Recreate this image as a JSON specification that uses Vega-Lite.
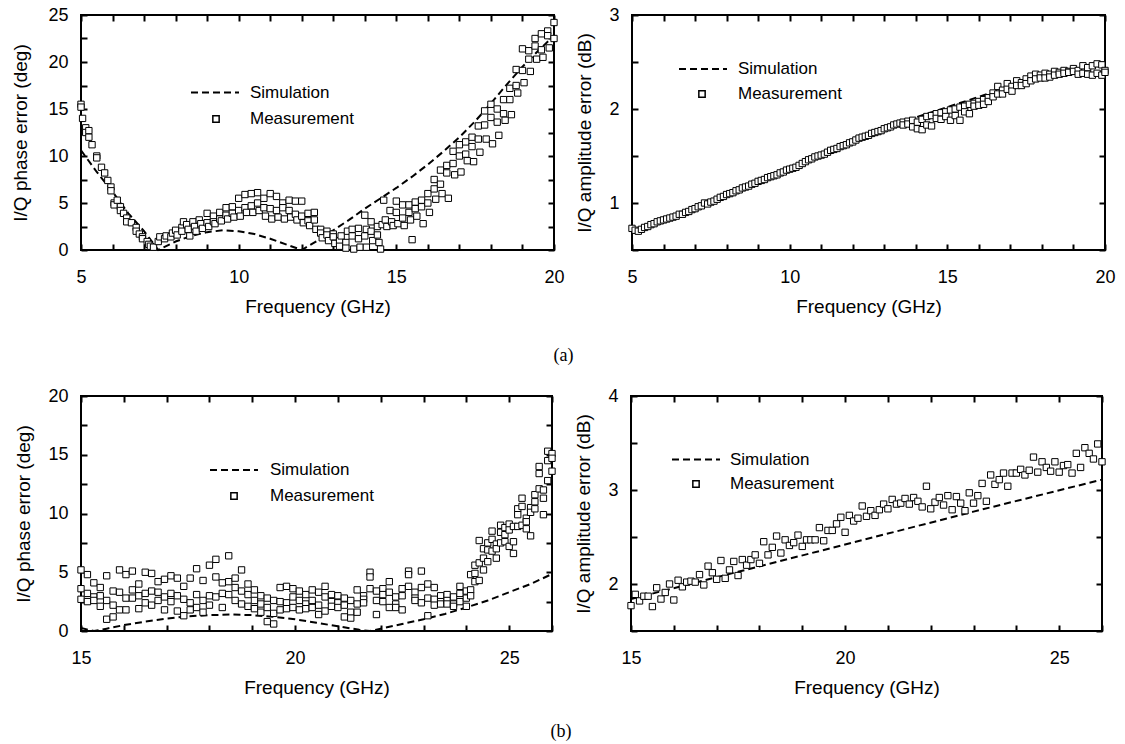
{
  "$schema": "https://vega.github.io/schema/vega-lite/v6.json",
  "background": "white",
  "padding": {"left": 10, "top": 5, "right": 0, "bottom": 0},
  "config": {
    "font": "Liberation Sans",
    "view": {"stroke": "black", "strokeWidth": 2},
    "axis": {
      "domain": false, "zindex": 1,
      "ticks": true, "tickColor": "black", "tickWidth": 2, "tickSize": -6,
      "grid": false,
      "labelFont": "Liberation Sans", "labelFontSize": 18, "labelColor": "black",
      "labelFlush": false, "labelOverlap": false, "labelBound": false,
      "titleFont": "Liberation Sans", "titleFontSize": 19, "titleFontWeight": "normal", "titleColor": "black"
    },
    "axisX": {"labelPadding": 24, "titlePadding": 11},
    "axisY": {"labelPadding": 19, "titlePadding": 14},
    "legend": {"labelFont": "Liberation Sans", "labelFontSize": 17, "labelColor": "black", "padding": 0, "symbolOpacity": 1, "title": null}
  },
  "datasets": {
    "simA1": [{"f":5,"v":10.6},{"f":5.5,"v":8.3},{"f":6,"v":6.2},{"f":6.5,"v":3.9},{"f":7,"v":2.0},{"f":7.45,"v":0},{"f":8,"v":0.9},{"f":8.5,"v":1.5},{"f":9,"v":1.9},{"f":9.5,"v":2.1},{"f":10,"v":2.0},{"f":10.5,"v":1.7},{"f":11,"v":1.2},{"f":11.5,"v":0.6},{"f":12,"v":0},{"f":12.5,"v":1.0},{"f":13,"v":2.1},{"f":13.5,"v":3.2},{"f":14,"v":4.4},{"f":14.5,"v":5.5},{"f":15,"v":6.6},{"f":15.5,"v":7.8},{"f":16,"v":9.1},{"f":16.5,"v":10.5},{"f":17,"v":12.0},{"f":17.5,"v":13.7},{"f":18,"v":15.6},{"f":18.5,"v":17.6},{"f":19,"v":19.5},{"f":19.5,"v":21.2},{"f":20,"v":22.8}],
    "measA1": [{"f":5.0,"v":15.5},{"f":5.0,"v":15.2},{"f":5.05,"v":14.0},{"f":5.15,"v":13.0},{"f":5.15,"v":12.5},{"f":5.25,"v":12.7},{"f":5.25,"v":12.0},{"f":5.35,"v":11.2},{"f":5.5,"v":10.0},{"f":5.5,"v":9.8},{"f":5.65,"v":8.8},{"f":5.75,"v":8.2},{"f":5.85,"v":7.4},{"f":5.95,"v":6.7},{"f":5.95,"v":6.3},{"f":6.05,"v":5.0},{"f":6.05,"v":4.8},{"f":6.15,"v":5.3},{"f":6.25,"v":4.6},{"f":6.25,"v":4.2},{"f":6.35,"v":3.9},{"f":6.45,"v":3.4},{"f":6.45,"v":3.0},{"f":6.6,"v":2.9},{"f":6.75,"v":2.4},{"f":6.75,"v":2.0},{"f":6.85,"v":1.7},{"f":6.95,"v":1.4},{"f":6.95,"v":1.2},{"f":7.1,"v":0.9},{"f":7.15,"v":0.6},{"f":7.2,"v":0.4},{"f":7.3,"v":0.3},{"f":7.45,"v":0.9},{"f":7.5,"v":1.4},{"f":7.65,"v":1.2},{"f":7.7,"v":1.5},{"f":7.85,"v":1.4},{"f":7.9,"v":1.8},{"f":8.0,"v":2.1},{"f":8.05,"v":1.6},{"f":8.2,"v":2.4},{"f":8.2,"v":2.0},{"f":8.25,"v":3.0},{"f":8.35,"v":2.7},{"f":8.4,"v":2.2},{"f":8.45,"v":1.5},{"f":8.55,"v":3.0},{"f":8.6,"v":2.5},{"f":8.65,"v":2.0},{"f":8.75,"v":3.2},{"f":8.8,"v":2.8},{"f":8.85,"v":2.3},{"f":9.0,"v":3.9},{"f":9.0,"v":2.9},{"f":9.05,"v":2.5},{"f":9.2,"v":3.6},{"f":9.2,"v":3.0},{"f":9.25,"v":2.8},{"f":9.4,"v":4.0},{"f":9.4,"v":3.3},{"f":9.45,"v":3.1},{"f":9.6,"v":4.5},{"f":9.6,"v":3.7},{"f":9.65,"v":3.3},{"f":9.8,"v":4.6},{"f":9.8,"v":3.9},{"f":9.85,"v":3.5},{"f":10.0,"v":5.5},{"f":10.0,"v":4.2},{"f":10.05,"v":3.6},{"f":10.2,"v":5.9},{"f":10.2,"v":4.5},{"f":10.25,"v":4.0},{"f":10.4,"v":6.0},{"f":10.4,"v":4.7},{"f":10.45,"v":4.0},{"f":10.6,"v":6.1},{"f":10.6,"v":5.0},{"f":10.65,"v":4.2},{"f":10.8,"v":5.5},{"f":10.8,"v":4.5},{"f":10.85,"v":3.6},{"f":11.0,"v":6.0},{"f":11.0,"v":4.4},{"f":11.05,"v":3.3},{"f":11.2,"v":5.7},{"f":11.2,"v":4.2},{"f":11.25,"v":3.5},{"f":11.4,"v":5.0},{"f":11.4,"v":4.5},{"f":11.45,"v":3.3},{"f":11.6,"v":5.3},{"f":11.6,"v":4.2},{"f":11.65,"v":3.5},{"f":11.8,"v":5.2},{"f":11.8,"v":3.8},{"f":11.85,"v":3.2},{"f":12.0,"v":5.2},{"f":12.0,"v":3.6},{"f":12.05,"v":2.9},{"f":12.2,"v":3.9},{"f":12.2,"v":3.1},{"f":12.25,"v":2.6},{"f":12.4,"v":4.0},{"f":12.4,"v":3.2},{"f":12.45,"v":2.2},{"f":12.6,"v":2.2},{"f":12.6,"v":1.8},{"f":12.65,"v":1.3},{"f":12.8,"v":2.0},{"f":12.8,"v":1.6},{"f":12.85,"v":1.0},{"f":13.0,"v":1.7},{"f":13.0,"v":1.4},{"f":13.05,"v":0.7},{"f":13.2,"v":1.0},{"f":13.2,"v":0.4},{"f":13.25,"v":1.5},{"f":13.4,"v":0.8},{"f":13.4,"v":0.2},{"f":13.45,"v":2.0},{"f":13.6,"v":2.2},{"f":13.6,"v":1.5},{"f":13.65,"v":0.1},{"f":13.8,"v":2.3},{"f":13.8,"v":1.2},{"f":13.85,"v":0.3},{"f":14.0,"v":3.7},{"f":14.0,"v":1.5},{"f":14.05,"v":0.3},{"f":14.05,"v":2.2},{"f":14.2,"v":3.0},{"f":14.2,"v":2.0},{"f":14.25,"v":1.0},{"f":14.4,"v":2.5},{"f":14.4,"v":1.6},{"f":14.45,"v":0.8},{"f":14.5,"v":0.1},{"f":14.55,"v":2.7},{"f":14.6,"v":5.3},{"f":14.65,"v":3.2},{"f":14.7,"v":2.5},{"f":14.8,"v":4.2},{"f":14.85,"v":3.0},{"f":14.9,"v":2.6},{"f":15.0,"v":5.2},{"f":15.0,"v":4.0},{"f":15.05,"v":2.8},{"f":15.2,"v":4.8},{"f":15.2,"v":3.4},{"f":15.25,"v":2.6},{"f":15.4,"v":4.8},{"f":15.4,"v":4.0},{"f":15.45,"v":3.2},{"f":15.5,"v":1.1},{"f":15.6,"v":5.1},{"f":15.6,"v":4.4},{"f":15.65,"v":3.6},{"f":15.8,"v":5.3},{"f":15.8,"v":4.6},{"f":15.85,"v":2.8},{"f":16.0,"v":6.0},{"f":16.0,"v":5.0},{"f":16.05,"v":4.0},{"f":16.2,"v":7.5},{"f":16.2,"v":6.5},{"f":16.25,"v":5.4},{"f":16.4,"v":8.5},{"f":16.4,"v":7.0},{"f":16.45,"v":6.0},{"f":16.6,"v":9.0},{"f":16.6,"v":8.2},{"f":16.65,"v":5.5},{"f":16.8,"v":10.5},{"f":16.8,"v":9.2},{"f":16.85,"v":8.0},{"f":17.0,"v":11.2},{"f":17.0,"v":10.0},{"f":17.05,"v":8.3},{"f":17.2,"v":11.5},{"f":17.2,"v":10.2},{"f":17.25,"v":9.5},{"f":17.4,"v":12.0},{"f":17.4,"v":11.0},{"f":17.45,"v":9.4},{"f":17.6,"v":13.2},{"f":17.6,"v":11.8},{"f":17.65,"v":10.4},{"f":17.8,"v":14.8},{"f":17.8,"v":13.3},{"f":17.85,"v":11.8},{"f":18.0,"v":15.5},{"f":18.0,"v":14.1},{"f":18.05,"v":11.3},{"f":18.2,"v":15.0},{"f":18.2,"v":13.6},{"f":18.25,"v":12.2},{"f":18.4,"v":16.0},{"f":18.4,"v":14.5},{"f":18.45,"v":13.8},{"f":18.6,"v":17.2},{"f":18.6,"v":16.0},{"f":18.65,"v":14.4},{"f":18.8,"v":19.2},{"f":18.8,"v":17.5},{"f":18.85,"v":16.7},{"f":19.0,"v":21.4},{"f":19.0,"v":19.1},{"f":19.05,"v":17.8},{"f":19.2,"v":21.2},{"f":19.2,"v":20.3},{"f":19.25,"v":19.0},{"f":19.4,"v":22.5},{"f":19.4,"v":21.7},{"f":19.45,"v":20.3},{"f":19.6,"v":23.0},{"f":19.6,"v":21.3},{"f":19.65,"v":20.5},{"f":19.8,"v":23.3},{"f":19.8,"v":22.8},{"f":19.85,"v":21.5},{"f":20.0,"v":24.2},{"f":20.0,"v":22.5}],
    "simA2": [{"f":5,"v":0.68},{"f":6,"v":0.81},{"f":7,"v":0.94},{"f":8,"v":1.08},{"f":9,"v":1.22},{"f":10,"v":1.36},{"f":11,"v":1.5},{"f":12,"v":1.64},{"f":13,"v":1.78},{"f":14,"v":1.91},{"f":15,"v":2.02},{"f":16,"v":2.13},{"f":17,"v":2.24},{"f":18,"v":2.33},{"f":19,"v":2.41},{"f":20,"v":2.47}],
    "measA2": [{"f":5.0,"v":0.73},{"f":5.1,"v":0.71},{"f":5.2,"v":0.7},{"f":5.3,"v":0.72},{"f":5.4,"v":0.74},{"f":5.5,"v":0.75},{"f":5.6,"v":0.77},{"f":5.7,"v":0.78},{"f":5.8,"v":0.8},{"f":5.9,"v":0.81},{"f":6.0,"v":0.82},{"f":6.1,"v":0.83},{"f":6.2,"v":0.84},{"f":6.3,"v":0.85},{"f":6.4,"v":0.86},{"f":6.5,"v":0.88},{"f":6.6,"v":0.88},{"f":6.7,"v":0.9},{"f":6.8,"v":0.91},{"f":6.9,"v":0.93},{"f":7.0,"v":0.94},{"f":7.1,"v":0.96},{"f":7.2,"v":0.97},{"f":7.3,"v":1.0},{"f":7.4,"v":0.99},{"f":7.5,"v":1.01},{"f":7.6,"v":1.02},{"f":7.7,"v":1.04},{"f":7.8,"v":1.06},{"f":7.9,"v":1.07},{"f":8.0,"v":1.09},{"f":8.1,"v":1.1},{"f":8.2,"v":1.11},{"f":8.3,"v":1.13},{"f":8.4,"v":1.14},{"f":8.5,"v":1.16},{"f":8.6,"v":1.17},{"f":8.7,"v":1.18},{"f":8.8,"v":1.2},{"f":8.9,"v":1.21},{"f":9.0,"v":1.23},{"f":9.1,"v":1.24},{"f":9.2,"v":1.25},{"f":9.3,"v":1.27},{"f":9.4,"v":1.28},{"f":9.5,"v":1.29},{"f":9.6,"v":1.3},{"f":9.7,"v":1.32},{"f":9.8,"v":1.33},{"f":9.9,"v":1.35},{"f":10.0,"v":1.36},{"f":10.1,"v":1.37},{"f":10.2,"v":1.38},{"f":10.3,"v":1.4},{"f":10.4,"v":1.42},{"f":10.5,"v":1.44},{"f":10.6,"v":1.46},{"f":10.7,"v":1.47},{"f":10.8,"v":1.49},{"f":10.9,"v":1.5},{"f":11.0,"v":1.51},{"f":11.1,"v":1.52},{"f":11.2,"v":1.54},{"f":11.3,"v":1.56},{"f":11.4,"v":1.57},{"f":11.5,"v":1.58},{"f":11.6,"v":1.6},{"f":11.7,"v":1.61},{"f":11.8,"v":1.62},{"f":11.9,"v":1.64},{"f":12.0,"v":1.65},{"f":12.1,"v":1.67},{"f":12.2,"v":1.69},{"f":12.3,"v":1.7},{"f":12.4,"v":1.71},{"f":12.5,"v":1.72},{"f":12.6,"v":1.74},{"f":12.7,"v":1.75},{"f":12.8,"v":1.76},{"f":12.9,"v":1.77},{"f":13.0,"v":1.79},{"f":13.1,"v":1.8},{"f":13.2,"v":1.81},{"f":13.3,"v":1.83},{"f":13.4,"v":1.84},{"f":13.5,"v":1.85},{"f":13.6,"v":1.86},{"f":13.6,"v":1.83},{"f":13.75,"v":1.87},{"f":13.75,"v":1.84},{"f":13.9,"v":1.88},{"f":13.9,"v":1.81},{"f":14.05,"v":1.86},{"f":14.05,"v":1.79},{"f":14.2,"v":1.89},{"f":14.2,"v":1.78},{"f":14.35,"v":1.92},{"f":14.35,"v":1.83},{"f":14.5,"v":1.93},{"f":14.5,"v":1.82},{"f":14.65,"v":1.95},{"f":14.65,"v":1.9},{"f":14.8,"v":1.96},{"f":14.8,"v":1.89},{"f":14.95,"v":1.97},{"f":14.95,"v":1.92},{"f":15.1,"v":1.99},{"f":15.1,"v":1.88},{"f":15.25,"v":2.0},{"f":15.25,"v":1.93},{"f":15.4,"v":2.02},{"f":15.4,"v":1.88},{"f":15.55,"v":2.03},{"f":15.55,"v":1.97},{"f":15.7,"v":2.05},{"f":15.7,"v":1.95},{"f":15.85,"v":2.06},{"f":15.85,"v":2.03},{"f":16.0,"v":2.08},{"f":16.0,"v":2.04},{"f":16.15,"v":2.1},{"f":16.15,"v":2.05},{"f":16.3,"v":2.12},{"f":16.3,"v":2.08},{"f":16.45,"v":2.17},{"f":16.45,"v":2.13},{"f":16.6,"v":2.24},{"f":16.6,"v":2.16},{"f":16.75,"v":2.2},{"f":16.75,"v":2.16},{"f":16.9,"v":2.27},{"f":16.9,"v":2.21},{"f":17.05,"v":2.24},{"f":17.05,"v":2.19},{"f":17.2,"v":2.3},{"f":17.2,"v":2.25},{"f":17.35,"v":2.28},{"f":17.35,"v":2.25},{"f":17.5,"v":2.32},{"f":17.5,"v":2.27},{"f":17.65,"v":2.35},{"f":17.65,"v":2.3},{"f":17.8,"v":2.37},{"f":17.8,"v":2.32},{"f":17.95,"v":2.36},{"f":17.95,"v":2.33},{"f":18.1,"v":2.38},{"f":18.1,"v":2.33},{"f":18.25,"v":2.37},{"f":18.25,"v":2.34},{"f":18.4,"v":2.4},{"f":18.4,"v":2.36},{"f":18.55,"v":2.39},{"f":18.55,"v":2.37},{"f":18.7,"v":2.41},{"f":18.7,"v":2.38},{"f":18.85,"v":2.4},{"f":18.85,"v":2.39},{"f":19.0,"v":2.43},{"f":19.0,"v":2.4},{"f":19.15,"v":2.41},{"f":19.15,"v":2.37},{"f":19.3,"v":2.46},{"f":19.3,"v":2.38},{"f":19.45,"v":2.44},{"f":19.45,"v":2.37},{"f":19.6,"v":2.46},{"f":19.6,"v":2.36},{"f":19.75,"v":2.48},{"f":19.75,"v":2.38},{"f":19.9,"v":2.47},{"f":19.9,"v":2.36},{"f":20.0,"v":2.41},{"f":20.0,"v":2.39}],
    "simB1": [{"f":15,"v":0.25},{"f":15.3,"v":0},{"f":15.6,"v":0.2},{"f":16,"v":0.5},{"f":16.5,"v":0.8},{"f":17,"v":1.05},{"f":17.5,"v":1.25},{"f":18,"v":1.35},{"f":18.5,"v":1.4},{"f":19,"v":1.35},{"f":19.5,"v":1.2},{"f":20,"v":1.0},{"f":20.5,"v":0.7},{"f":21,"v":0.4},{"f":21.5,"v":0.1},{"f":21.75,"v":0},{"f":22,"v":0.2},{"f":22.5,"v":0.6},{"f":23,"v":1.0},{"f":23.5,"v":1.45},{"f":24,"v":2.0},{"f":24.5,"v":2.6},{"f":25,"v":3.3},{"f":25.5,"v":4.0},{"f":26,"v":4.85}],
    "measB1": [{"f":15.0,"v":5.2},{"f":15.0,"v":3.6},{"f":15.0,"v":2.7},{"f":15.15,"v":4.8},{"f":15.15,"v":3.2},{"f":15.15,"v":2.5},{"f":15.3,"v":4.1},{"f":15.3,"v":2.9},{"f":15.3,"v":2.6},{"f":15.45,"v":3.7},{"f":15.45,"v":3.0},{"f":15.45,"v":2.1},{"f":15.6,"v":4.7},{"f":15.6,"v":2.6},{"f":15.6,"v":1.0},{"f":15.75,"v":3.4},{"f":15.75,"v":2.2},{"f":15.75,"v":1.2},{"f":15.9,"v":5.2},{"f":15.9,"v":3.3},{"f":15.9,"v":1.8},{"f":16.05,"v":4.8},{"f":16.05,"v":2.8},{"f":16.05,"v":1.8},{"f":16.2,"v":5.1},{"f":16.2,"v":3.5},{"f":16.2,"v":2.8},{"f":16.35,"v":4.0},{"f":16.35,"v":3.0},{"f":16.35,"v":1.9},{"f":16.5,"v":5.0},{"f":16.5,"v":3.2},{"f":16.5,"v":2.4},{"f":16.65,"v":4.9},{"f":16.65,"v":3.4},{"f":16.65,"v":2.2},{"f":16.8,"v":4.2},{"f":16.8,"v":3.3},{"f":16.8,"v":2.6},{"f":16.95,"v":4.4},{"f":16.95,"v":2.9},{"f":16.95,"v":1.8},{"f":17.1,"v":4.7},{"f":17.1,"v":3.2},{"f":17.1,"v":2.5},{"f":17.25,"v":4.5},{"f":17.25,"v":3.0},{"f":17.25,"v":1.7},{"f":17.4,"v":3.8},{"f":17.4,"v":2.7},{"f":17.4,"v":1.3},{"f":17.55,"v":4.5},{"f":17.55,"v":2.4},{"f":17.55,"v":1.8},{"f":17.7,"v":5.3},{"f":17.7,"v":3.1},{"f":17.7,"v":2.0},{"f":17.85,"v":4.3},{"f":17.85,"v":2.6},{"f":17.85,"v":1.6},{"f":18.0,"v":5.6},{"f":18.0,"v":3.0},{"f":18.0,"v":2.2},{"f":18.15,"v":6.1},{"f":18.15,"v":4.6},{"f":18.15,"v":2.9},{"f":18.3,"v":4.1},{"f":18.3,"v":3.2},{"f":18.3,"v":2.0},{"f":18.45,"v":6.4},{"f":18.45,"v":4.2},{"f":18.45,"v":3.1},{"f":18.6,"v":4.5},{"f":18.6,"v":3.7},{"f":18.6,"v":2.6},{"f":18.75,"v":5.2},{"f":18.75,"v":3.4},{"f":18.75,"v":2.3},{"f":18.9,"v":4.0},{"f":18.9,"v":3.1},{"f":18.9,"v":2.1},{"f":19.05,"v":3.5},{"f":19.05,"v":2.6},{"f":19.05,"v":1.9},{"f":19.2,"v":3.0},{"f":19.2,"v":2.3},{"f":19.2,"v":1.6},{"f":19.35,"v":2.8},{"f":19.35,"v":2.0},{"f":19.35,"v":0.8},{"f":19.5,"v":2.6},{"f":19.5,"v":1.5},{"f":19.5,"v":0.6},{"f":19.65,"v":3.7},{"f":19.65,"v":2.5},{"f":19.65,"v":1.8},{"f":19.8,"v":3.8},{"f":19.8,"v":2.4},{"f":19.8,"v":1.9},{"f":19.95,"v":3.6},{"f":19.95,"v":2.9},{"f":19.95,"v":2.0},{"f":20.1,"v":3.4},{"f":20.1,"v":2.6},{"f":20.1,"v":1.8},{"f":20.25,"v":3.1},{"f":20.25,"v":2.3},{"f":20.25,"v":1.9},{"f":20.4,"v":3.5},{"f":20.4,"v":2.6},{"f":20.4,"v":2.0},{"f":20.55,"v":3.3},{"f":20.55,"v":2.2},{"f":20.55,"v":1.4},{"f":20.7,"v":3.8},{"f":20.7,"v":2.9},{"f":20.7,"v":1.7},{"f":20.85,"v":3.1},{"f":20.85,"v":2.5},{"f":20.85,"v":2.1},{"f":21.0,"v":3.0},{"f":21.0,"v":2.4},{"f":21.0,"v":2.0},{"f":21.15,"v":2.8},{"f":21.15,"v":2.2},{"f":21.15,"v":1.2},{"f":21.3,"v":2.6},{"f":21.3,"v":1.6},{"f":21.3,"v":1.1},{"f":21.45,"v":3.5},{"f":21.45,"v":2.3},{"f":21.45,"v":1.6},{"f":21.6,"v":3.0},{"f":21.6,"v":2.7},{"f":21.6,"v":2.4},{"f":21.75,"v":5.0},{"f":21.75,"v":4.6},{"f":21.75,"v":3.6},{"f":21.9,"v":3.4},{"f":21.9,"v":2.6},{"f":21.9,"v":1.4},{"f":22.05,"v":3.6},{"f":22.05,"v":3.1},{"f":22.05,"v":2.5},{"f":22.2,"v":4.2},{"f":22.2,"v":3.3},{"f":22.2,"v":2.0},{"f":22.35,"v":2.9},{"f":22.35,"v":2.3},{"f":22.35,"v":2.0},{"f":22.5,"v":3.6},{"f":22.5,"v":3.0},{"f":22.5,"v":1.8},{"f":22.65,"v":5.1},{"f":22.65,"v":4.8},{"f":22.65,"v":3.8},{"f":22.8,"v":3.3},{"f":22.8,"v":2.8},{"f":22.8,"v":2.6},{"f":22.95,"v":5.1},{"f":22.95,"v":3.7},{"f":22.95,"v":2.4},{"f":23.1,"v":4.0},{"f":23.1,"v":2.8},{"f":23.1,"v":1.3},{"f":23.25,"v":3.7},{"f":23.25,"v":2.7},{"f":23.25,"v":2.2},{"f":23.4,"v":3.0},{"f":23.4,"v":2.5},{"f":23.4,"v":2.3},{"f":23.55,"v":3.1},{"f":23.55,"v":2.6},{"f":23.55,"v":2.3},{"f":23.7,"v":2.9},{"f":23.7,"v":2.3},{"f":23.7,"v":2.1},{"f":23.85,"v":3.8},{"f":23.85,"v":3.2},{"f":23.85,"v":2.5},{"f":24.0,"v":3.4},{"f":24.0,"v":2.8},{"f":24.0,"v":2.1},{"f":24.1,"v":4.8},{"f":24.1,"v":3.5},{"f":24.1,"v":3.0},{"f":24.2,"v":5.6},{"f":24.2,"v":4.9},{"f":24.2,"v":4.2},{"f":24.3,"v":7.7},{"f":24.3,"v":5.8},{"f":24.3,"v":4.3},{"f":24.4,"v":7.0},{"f":24.4,"v":6.2},{"f":24.4,"v":5.2},{"f":24.5,"v":7.5},{"f":24.5,"v":6.9},{"f":24.5,"v":5.9},{"f":24.6,"v":8.5},{"f":24.6,"v":7.8},{"f":24.6,"v":6.8},{"f":24.7,"v":7.4},{"f":24.7,"v":7.0},{"f":24.7,"v":6.2},{"f":24.8,"v":9.0},{"f":24.8,"v":8.4},{"f":24.8,"v":7.5},{"f":24.9,"v":8.8},{"f":24.9,"v":8.2},{"f":24.9,"v":7.6},{"f":25.0,"v":9.1},{"f":25.0,"v":8.6},{"f":25.0,"v":7.2},{"f":25.1,"v":8.9},{"f":25.1,"v":7.6},{"f":25.1,"v":6.6},{"f":25.2,"v":10.4},{"f":25.2,"v":9.9},{"f":25.2,"v":8.9},{"f":25.3,"v":11.3},{"f":25.3,"v":10.6},{"f":25.3,"v":9.0},{"f":25.4,"v":9.6},{"f":25.4,"v":9.3},{"f":25.4,"v":8.7},{"f":25.5,"v":10.5},{"f":25.5,"v":10.1},{"f":25.5,"v":8.1},{"f":25.6,"v":11.6},{"f":25.6,"v":11.0},{"f":25.6,"v":10.4},{"f":25.7,"v":14.0},{"f":25.7,"v":13.4},{"f":25.7,"v":12.1},{"f":25.8,"v":12.0},{"f":25.8,"v":11.3},{"f":25.8,"v":9.9},{"f":25.9,"v":15.3},{"f":25.9,"v":14.5},{"f":25.9,"v":12.8},{"f":26.0,"v":15.1},{"f":26.0,"v":14.7},{"f":26.0,"v":13.6}],
    "simB2": [{"f":15,"v":1.84},{"f":17.5,"v":2.13},{"f":20,"v":2.42},{"f":23,"v":2.77},{"f":26,"v":3.11}],
    "measB2": [{"f":15.0,"v":1.77},{"f":15.1,"v":1.89},{"f":15.2,"v":1.82},{"f":15.3,"v":1.87},{"f":15.4,"v":1.87},{"f":15.5,"v":1.76},{"f":15.6,"v":1.96},{"f":15.7,"v":1.84},{"f":15.8,"v":1.91},{"f":15.9,"v":2.0},{"f":16.0,"v":1.83},{"f":16.1,"v":2.04},{"f":16.2,"v":1.97},{"f":16.3,"v":2.02},{"f":16.4,"v":2.03},{"f":16.5,"v":2.02},{"f":16.6,"v":2.1},{"f":16.7,"v":1.99},{"f":16.8,"v":2.19},{"f":16.9,"v":2.12},{"f":17.0,"v":2.05},{"f":17.1,"v":2.25},{"f":17.2,"v":2.06},{"f":17.3,"v":2.15},{"f":17.4,"v":2.24},{"f":17.5,"v":2.09},{"f":17.6,"v":2.26},{"f":17.7,"v":2.2},{"f":17.8,"v":2.26},{"f":17.9,"v":2.31},{"f":18.0,"v":2.22},{"f":18.1,"v":2.45},{"f":18.2,"v":2.31},{"f":18.3,"v":2.39},{"f":18.4,"v":2.51},{"f":18.5,"v":2.33},{"f":18.6,"v":2.47},{"f":18.7,"v":2.41},{"f":18.8,"v":2.44},{"f":18.9,"v":2.52},{"f":19.0,"v":2.4},{"f":19.1,"v":2.47},{"f":19.2,"v":2.47},{"f":19.3,"v":2.47},{"f":19.4,"v":2.6},{"f":19.5,"v":2.46},{"f":19.6,"v":2.57},{"f":19.7,"v":2.57},{"f":19.8,"v":2.64},{"f":19.9,"v":2.71},{"f":20.0,"v":2.55},{"f":20.1,"v":2.73},{"f":20.2,"v":2.67},{"f":20.3,"v":2.7},{"f":20.4,"v":2.83},{"f":20.5,"v":2.72},{"f":20.6,"v":2.78},{"f":20.7,"v":2.73},{"f":20.8,"v":2.79},{"f":20.9,"v":2.85},{"f":21.0,"v":2.8},{"f":21.1,"v":2.9},{"f":21.2,"v":2.85},{"f":21.3,"v":2.86},{"f":21.4,"v":2.91},{"f":21.5,"v":2.85},{"f":21.6,"v":2.92},{"f":21.7,"v":2.88},{"f":21.8,"v":2.82},{"f":21.9,"v":3.04},{"f":22.0,"v":2.8},{"f":22.1,"v":2.87},{"f":22.2,"v":2.92},{"f":22.3,"v":2.84},{"f":22.4,"v":2.94},{"f":22.5,"v":2.79},{"f":22.6,"v":2.93},{"f":22.7,"v":2.86},{"f":22.8,"v":2.78},{"f":22.9,"v":2.97},{"f":23.0,"v":2.86},{"f":23.1,"v":2.94},{"f":23.2,"v":3.07},{"f":23.3,"v":2.88},{"f":23.4,"v":3.16},{"f":23.5,"v":3.06},{"f":23.6,"v":3.11},{"f":23.7,"v":3.18},{"f":23.8,"v":3.04},{"f":23.9,"v":3.18},{"f":24.0,"v":3.18},{"f":24.1,"v":3.22},{"f":24.2,"v":3.16},{"f":24.3,"v":3.21},{"f":24.4,"v":3.35},{"f":24.5,"v":3.19},{"f":24.6,"v":3.3},{"f":24.7,"v":3.24},{"f":24.8,"v":3.2},{"f":24.9,"v":3.3},{"f":25.0,"v":3.19},{"f":25.1,"v":3.26},{"f":25.2,"v":3.27},{"f":25.3,"v":3.18},{"f":25.4,"v":3.39},{"f":25.5,"v":3.24},{"f":25.6,"v":3.45},{"f":25.7,"v":3.39},{"f":25.8,"v":3.33},{"f":25.9,"v":3.49},{"f":26.0,"v":3.3}]
  },
  "vconcat": [
    {
      "hconcat": [
        {
          "width": 473, "height": 235,
          "layer": [
            {
              "data": {"name": "simA1"},
              "mark": {"type": "line", "color": "black", "strokeWidth": 2},
              "encoding": {
                "x": {"field": "f", "type": "quantitative", "scale": {"domain": [5, 20], "nice": false, "zero": false},
                      "axis": {"values": [5,6,7,8,9,10,11,12,13,14,15,16,17,18,19,20], "labelExpr": "datum.value % 5 === 0 ? datum.label : ''", "title": "Frequency (GHz)"}},
                "y": {"field": "v", "type": "quantitative", "scale": {"domain": [0, 25], "nice": false},
                      "axis": {"values": [0,2.5,5,7.5,10,12.5,15,17.5,20,22.5,25], "labelExpr": "datum.value % 5 === 0 ? datum.label : ''", "title": "I/Q phase error (deg)", "titlePadding": 17}},
                "strokeDash": {"datum": "Simulation", "scale": {"range": [[7, 4]]},
                               "legend": {"orient": "none", "legendX": 109, "legendY": 52.5, "symbolType": "stroke", "symbolSize": 2304, "symbolStrokeColor": "black", "symbolStrokeWidth": 2, "symbolDash": [7, 4], "labelOffset": 10}}
              }
            },
            {
              "data": {"name": "measA1"},
              "mark": {"type": "point", "filled": true, "fill": "white", "stroke": "black", "strokeWidth": 1, "size": 40, "opacity": 1},
              "encoding": {
                "x": {"field": "f", "type": "quantitative", "scale": {"domain": [5, 20], "nice": false, "zero": false},
                      "axis": {"orient": "top", "values": [5,6,7,8,9,10,11,12,13,14,15,16,17,18,19,20], "labels": false, "title": null}},
                "y": {"field": "v", "type": "quantitative", "scale": {"domain": [0, 25], "nice": false},
                      "axis": {"orient": "right", "values": [0,2.5,5,7.5,10,12.5,15,17.5,20,22.5,25], "labels": false, "title": null}},
                "shape": {"datum": "Measurement", "scale": {"range": ["square"]},
                          "legend": {"orient": "none", "legendX": 126.5, "legendY": 95.5, "symbolSize": 40, "labelOffset": 25.5,
                                     "encode": {"symbols": {"update": {"fill": {"value": "white"}, "stroke": {"value": "black"}, "strokeWidth": {"value": 1}, "opacity": {"value": 1}}}}}}
              }
            }
          ],
          "resolve": {"scale": {"x": "independent", "y": "independent"}}
        },
        {
          "width": 473, "height": 235,
          "layer": [
            {
              "data": {"name": "simA2"},
              "mark": {"type": "line", "color": "black", "strokeWidth": 2},
              "encoding": {
                "x": {"field": "f", "type": "quantitative", "scale": {"domain": [5, 20], "nice": false, "zero": false},
                      "axis": {"values": [5,6,7,8,9,10,11,12,13,14,15,16,17,18,19,20], "labelExpr": "datum.value % 5 === 0 ? datum.label : ''", "title": "Frequency (GHz)"}},
                "y": {"field": "v", "type": "quantitative", "scale": {"domain": [0.5, 3], "nice": false, "zero": false},
                      "axis": {"values": [0.5,1,1.5,2,2.5,3], "format": "~g", "labelExpr": "datum.value % 1 === 0 ? datum.label : ''", "title": "I/Q amplitude error (dB)"}},
                "strokeDash": {"datum": "Simulation", "scale": {"range": [[7, 4]]},
                               "legend": {"orient": "none", "legendX": 46, "legendY": 29, "symbolType": "stroke", "symbolSize": 2304, "symbolStrokeColor": "black", "symbolStrokeWidth": 2, "symbolDash": [7, 4], "labelOffset": 10}}
              }
            },
            {
              "data": {"name": "measA2"},
              "mark": {"type": "point", "filled": true, "fill": "white", "stroke": "black", "strokeWidth": 1, "size": 40, "opacity": 1},
              "encoding": {
                "x": {"field": "f", "type": "quantitative", "scale": {"domain": [5, 20], "nice": false, "zero": false},
                      "axis": {"orient": "top", "values": [5,6,7,8,9,10,11,12,13,14,15,16,17,18,19,20], "labels": false, "title": null}},
                "y": {"field": "v", "type": "quantitative", "scale": {"domain": [0.5, 3], "nice": false, "zero": false},
                      "axis": {"orient": "right", "values": [0.5,1,1.5,2,2.5,3], "labels": false, "title": null}},
                "shape": {"datum": "Measurement", "scale": {"range": ["square"]},
                          "legend": {"orient": "none", "legendX": 61.5, "legendY": 70.5, "symbolSize": 40, "labelOffset": 27.5,
                                     "encode": {"symbols": {"update": {"fill": {"value": "white"}, "stroke": {"value": "black"}, "strokeWidth": {"value": 1}, "opacity": {"value": 1}}}}}}
              }
            }
          ],
          "resolve": {"scale": {"x": "independent", "y": "independent"}}
        }
      ],
      "spacing": 78,
      "bounds": "flush",
      "title": {"text": "(a)", "orient": "bottom", "anchor": "middle", "font": "Liberation Serif", "fontSize": 18, "fontWeight": "normal", "color": "black", "offset": 30},
      "resolve": {"scale": {"strokeDash": "independent", "shape": "independent"}, "legend": {"strokeDash": "independent", "shape": "independent"}}
    },
    {
      "hconcat": [
        {
          "width": 471, "height": 235,
          "layer": [
            {
              "data": {"name": "simB1"},
              "mark": {"type": "line", "color": "black", "strokeWidth": 2},
              "encoding": {
                "x": {"field": "f", "type": "quantitative", "scale": {"domain": [15, 26], "nice": false, "zero": false},
                      "axis": {"values": [15,16,17,18,19,20,21,22,23,24,25,26], "labelExpr": "datum.value % 5 === 0 ? datum.label : ''", "title": "Frequency (GHz)"}},
                "y": {"field": "v", "type": "quantitative", "scale": {"domain": [0, 20], "nice": false},
                      "axis": {"values": [0,2.5,5,7.5,10,12.5,15,17.5,20], "labelExpr": "datum.value % 5 === 0 ? datum.label : ''", "title": "I/Q phase error (deg)"}},
                "strokeDash": {"datum": "Simulation", "scale": {"range": [[7, 4]]},
                               "legend": {"orient": "none", "legendX": 128, "legendY": 49, "symbolType": "stroke", "symbolSize": 2304, "symbolStrokeColor": "black", "symbolStrokeWidth": 2, "symbolDash": [7, 4], "labelOffset": 11}}
              }
            },
            {
              "data": {"name": "measB1"},
              "mark": {"type": "point", "filled": true, "fill": "white", "stroke": "black", "strokeWidth": 1, "size": 40, "opacity": 1},
              "encoding": {
                "x": {"field": "f", "type": "quantitative", "scale": {"domain": [15, 26], "nice": false, "zero": false},
                      "axis": {"orient": "top", "values": [15,16,17,18,19,20,21,22,23,24,25,26], "labels": false, "title": null}},
                "y": {"field": "v", "type": "quantitative", "scale": {"domain": [0, 20], "nice": false},
                      "axis": {"orient": "right", "values": [0,2.5,5,7.5,10,12.5,15,17.5,20], "labels": false, "title": null}},
                "shape": {"datum": "Measurement", "scale": {"range": ["square"]},
                          "legend": {"orient": "none", "legendX": 144.5, "legendY": 91.5, "symbolSize": 40, "labelOffset": 27.5,
                                     "encode": {"symbols": {"update": {"fill": {"value": "white"}, "stroke": {"value": "black"}, "strokeWidth": {"value": 1}, "opacity": {"value": 1}}}}}}
              }
            }
          ],
          "resolve": {"scale": {"x": "independent", "y": "independent"}}
        },
        {
          "width": 471, "height": 235,
          "layer": [
            {
              "data": {"name": "simB2"},
              "mark": {"type": "line", "color": "black", "strokeWidth": 2},
              "encoding": {
                "x": {"field": "f", "type": "quantitative", "scale": {"domain": [15, 26], "nice": false, "zero": false},
                      "axis": {"values": [15,16,17,18,19,20,21,22,23,24,25,26], "labelExpr": "datum.value % 5 === 0 ? datum.label : ''", "title": "Frequency (GHz)"}},
                "y": {"field": "v", "type": "quantitative", "scale": {"domain": [1.5, 4], "nice": false, "zero": false},
                      "axis": {"values": [1.5,2,2.5,3,3.5,4], "format": "~g", "labelExpr": "datum.value % 1 === 0 ? datum.label : ''", "title": "I/Q amplitude error (dB)"}},
                "strokeDash": {"datum": "Simulation", "scale": {"range": [[7, 4]]},
                               "legend": {"orient": "none", "legendX": 40, "legendY": 38.5, "symbolType": "stroke", "symbolSize": 2304, "symbolStrokeColor": "black", "symbolStrokeWidth": 2, "symbolDash": [7, 4], "labelOffset": 9}}
              }
            },
            {
              "data": {"name": "measB2"},
              "mark": {"type": "point", "filled": true, "fill": "white", "stroke": "black", "strokeWidth": 1, "size": 40, "opacity": 1},
              "encoding": {
                "x": {"field": "f", "type": "quantitative", "scale": {"domain": [15, 26], "nice": false, "zero": false},
                      "axis": {"orient": "top", "values": [15,16,17,18,19,20,21,22,23,24,25,26], "labels": false, "title": null}},
                "y": {"field": "v", "type": "quantitative", "scale": {"domain": [1.5, 4], "nice": false, "zero": false},
                      "axis": {"orient": "right", "values": [1.5,2,2.5,3,3.5,4], "labels": false, "title": null}},
                "shape": {"datum": "Measurement", "scale": {"range": ["square"]},
                          "legend": {"orient": "none", "legendX": 56.5, "legendY": 79.5, "symbolSize": 40, "labelOffset": 25.5,
                                     "encode": {"symbols": {"update": {"fill": {"value": "white"}, "stroke": {"value": "black"}, "strokeWidth": {"value": 1}, "opacity": {"value": 1}}}}}}
              }
            }
          ],
          "resolve": {"scale": {"x": "independent", "y": "independent"}}
        }
      ],
      "spacing": 79,
      "bounds": "flush",
      "title": {"text": "(b)", "orient": "bottom", "anchor": "middle", "font": "Liberation Serif", "fontSize": 18, "fontWeight": "normal", "color": "black", "offset": 25},
      "resolve": {"scale": {"strokeDash": "independent", "shape": "independent"}, "legend": {"strokeDash": "independent", "shape": "independent"}}
    }
  ],
  "spacing": 21,
  "resolve": {"scale": {"strokeDash": "independent", "shape": "independent"}, "legend": {"strokeDash": "independent", "shape": "independent"}}
}
